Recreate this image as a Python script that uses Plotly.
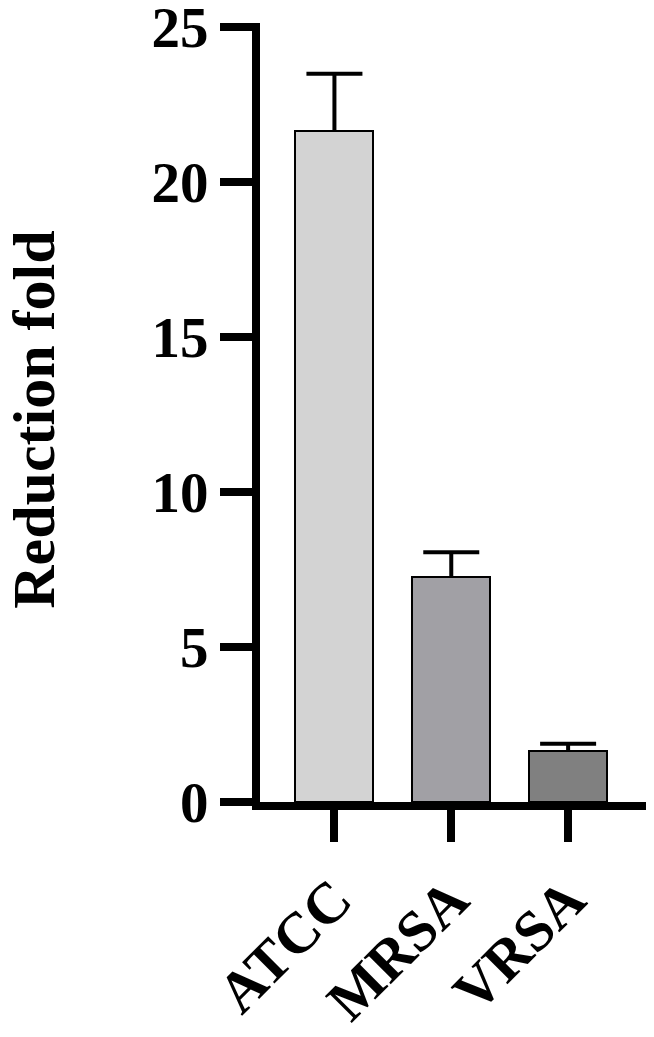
import plotly.graph_objects as go

categories = ["ATCC", "MRSA", "VRSA"]
values = [21.66, 7.26, 1.66]
errors_up = [1.83, 0.80, 0.22]
colors = ["#d3d3d3", "#a1a0a5", "#808080"]
y_ticks = [0, 5, 10, 15, 20, 25]
y_title = "Reduction fold"

FONT = "Liberation Serif"

fig = go.Figure()
fig.add_trace(go.Bar(
    x=categories,
    y=values,
    width=0.667,
    marker=dict(color=colors, line=dict(color="black", width=2)),
    error_y=dict(type="data", symmetric=False, array=errors_up,
                 arrayminus=[0] * len(values),
                 color="black", thickness=4, width=0),
))
# caps of the upper error bars
fig.add_trace(go.Scatter(
    x=categories,
    y=[v + e for v, e in zip(values, errors_up)],
    mode="markers",
    marker=dict(symbol="line-ew", size=40, color="black",
                line=dict(color="black", width=4)),
    cliponaxis=False,
    hoverinfo="skip",
))

fig.update_layout(
    width=646, height=1029,
    margin=dict(l=251.5, r=2, t=15, b=235, autoexpand=False),
    plot_bgcolor="white", paper_bgcolor="white",
    showlegend=False,
    font=dict(family=FONT, color="black"),
    bargap=0,
)
fig.update_xaxes(
    range=[-0.637, 2.718],
    showline=True, linecolor="black", linewidth=8,
    ticks="outside", ticklen=32, tickwidth=8, tickcolor="black",
    tickangle=-45,
    tickfont=dict(family=FONT, size=58, color="black", weight="bold"),
    showgrid=False, zeroline=False,
)
fig.update_yaxes(
    range=[0, 25.13],
    tickvals=y_ticks,
    showline=True, linecolor="black", linewidth=8,
    ticks="outside", ticklen=32, tickwidth=8, tickcolor="black",
    ticklabeloverflow="allow",
    tickfont=dict(family=FONT, size=57, color="black", weight="bold"),
    showgrid=False, zeroline=False,
)
fig.add_annotation(
    text=y_title, textangle=-90,
    xref="paper", yref="paper", x=0, y=0.4906,
    xshift=-226, xanchor="center", yanchor="middle",
    showarrow=False,
    font=dict(family=FONT, size=60, color="black", weight="bold"),
)

fig.write_html("out.html")
